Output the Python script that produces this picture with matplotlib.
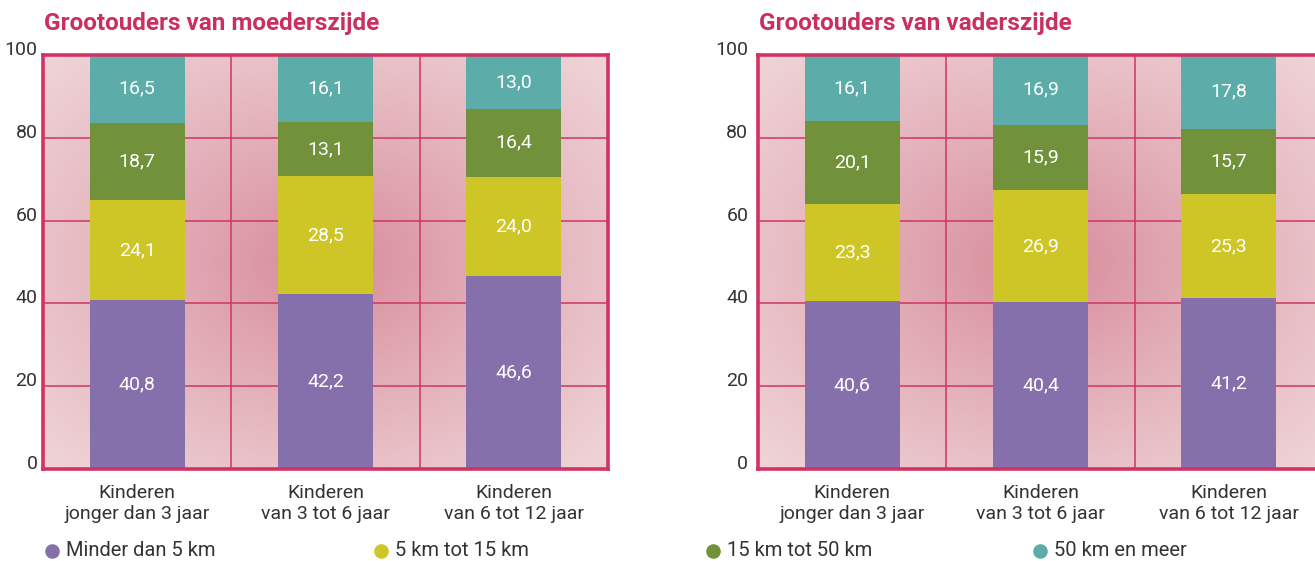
import numpy as np
import matplotlib
matplotlib.use("Agg")
import matplotlib.pyplot as plt
from matplotlib.lines import Line2D

categories = ["Kinderen\njonger dan 3 jaar", "Kinderen\nvan 3 tot 6 jaar", "Kinderen\nvan 6 tot 12 jaar"]
series_names = ["Minder dan 5 km", "5 km tot 15 km", "15 km tot 50 km", "50 km en meer"]
titles = ["Grootouders van moederszijde", "Grootouders van vaderszijde"]

moeder_lt5 = [40.8, 42.2, 46.6]
moeder_5_15 = [24.1, 28.5, 24.0]
moeder_15_50 = [18.7, 13.1, 16.4]
moeder_50plus = [16.5, 16.1, 13.0]

vader_lt5 = [40.6, 40.4, 41.2]
vader_5_15 = [23.3, 26.9, 25.3]
vader_15_50 = [20.1, 15.9, 15.7]
vader_50plus = [16.1, 16.9, 17.8]

yticks = [0, 20, 40, 60, 80, 100]

colors = ["#8670AB", "#CEC527", "#71923A", "#5CADA9"]
crimson = "#D13464"
title_color = "#C9305E"
text_color = "#333333"

plt.rcParams["font.family"] = ["Roboto", "DejaVu Sans"]

W, H = 1315, 561
fig = plt.figure(figsize=(W / 100, H / 100), dpi=100)

panels = [
    ([moeder_lt5, moeder_5_15, moeder_15_50, moeder_50plus], 43, 4),
    ([vader_lt5, vader_5_15, vader_15_50, vader_50plus], 758, 7),
]

# radial gradient background
ny, nx = 200, 300
gx = np.linspace(-1, 1, nx)
gy = np.linspace(-1, 1, ny)
GX, GY = np.meshgrid(gx, gy)
d = np.sqrt(GX**2 + GY**2) / np.sqrt(2)
t = np.clip(d / 0.95, 0, 1) ** 0.85
c_center = np.array([214, 136, 150]) / 255
c_edge = np.array([238, 210, 214]) / 255
bg = c_center[None, None, :] + (c_edge - c_center)[None, None, :] * t[:, :, None]

ax_top, ax_bot = 55, 469
for (data, left_px, pad), title in zip(panels, titles):
    ax = fig.add_axes([left_px / W, 1 - ax_bot / H, 565 / W, (ax_bot - ax_top) / H])
    x = np.arange(len(categories))
    ax.imshow(bg, extent=(-0.5, 2.5, 0, 100), aspect="auto", zorder=0, interpolation="bilinear")
    for yv in yticks[1:-1]:
        ax.axhline(yv, color=crimson, lw=1.1, zorder=1)
    for xv in [0.5, 1.5]:
        ax.axvline(xv, color=crimson, lw=1.1, zorder=1)
    bottom = np.zeros(len(categories))
    for vals, col in zip(data, colors):
        vals = np.array(vals)
        ax.bar(x, vals, bottom=bottom, width=0.505, color=col, zorder=2)
        for xi, b, v in zip(x, bottom, vals):
            ax.text(xi, b + v / 2, f"{v:.1f}".replace(".", ","), ha="center", va="center",
                    color="white", fontsize=14, zorder=3)
        bottom = bottom + vals
    ax.set_xlim(-0.5, 2.5)
    ax.set_ylim(0, 100)
    ax.set_yticks(yticks)
    ax.set_yticklabels([str(v) for v in yticks])
    for lab in ax.get_yticklabels():
        lab.set_va("baseline")
    ax.tick_params(axis="y", length=0, pad=pad, labelsize=14, labelcolor=text_color)
    ax.set_xticks(x)
    ax.set_xticklabels(categories, linespacing=1.2)
    ax.tick_params(axis="x", length=0, pad=11, labelsize=14, labelcolor=text_color)
    for s in ax.spines.values():
        s.set_color(crimson)
        s.set_linewidth(2.6)
        s.set_zorder(4)
    fig.text((left_px + 1) / W, 1 - 30 / H, title, color=title_color, fontsize=17.5,
             fontweight="bold", ha="left", va="baseline")

# legend
leg_x = [52, 381, 713, 1040]
leg_y = 1 - 551 / H
for lx, name, col in zip(leg_x, series_names, colors):
    fig.add_artist(Line2D([lx / W], [leg_y], marker="o", markersize=10.5, color=col,
                          markeredgewidth=0, transform=fig.transFigure))
    fig.text((lx + 14) / W, leg_y, name, color=text_color, fontsize=14.5, ha="left", va="center")

fig.savefig("out.png", dpi=100)
